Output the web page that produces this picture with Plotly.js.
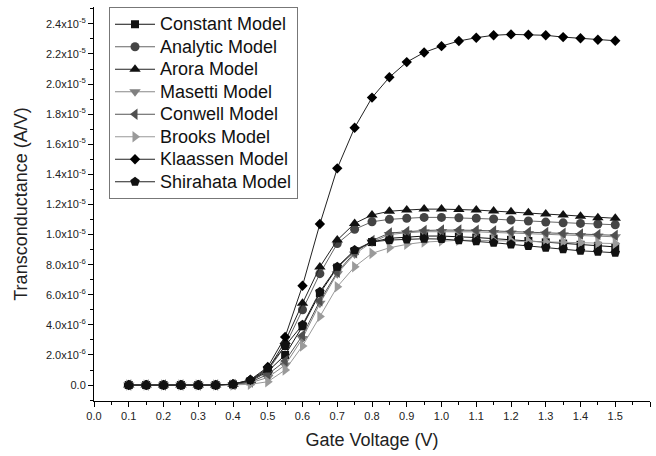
<!DOCTYPE html>
<html>
<head>
<meta charset="utf-8">
<script src="https://cdn.plot.ly/plotly-3.0.1.min.js"></script>
<style>html,body{margin:0;padding:0;background:#fff;overflow:hidden;}#chart{width:656px;height:456px;}</style>
</head>
<body>
<div id="chart"></div>
<script>
// Gate voltage (V)
const gateVoltage = [0.1,0.15,0.2,0.25,0.3,0.35,0.4,0.45,0.5,0.55,0.6,0.65,0.7,0.75,0.8,0.85,0.9,0.95,1.0,1.05,1.1,1.15,1.2,1.25,1.3,1.35,1.4,1.45,1.5];
// Transconductance in units of 1e-6 A/V
const constantModel = [0,0,0,0,0,0,0.04,0.25,0.9,2.0,3.9,6.1,7.8,8.9,9.5,9.75,9.85,9.9,9.9,9.86,9.8,9.73,9.65,9.57,9.48,9.4,9.32,9.25,9.18];
const analyticModel = [0,0,0,0,0,0,0.05,0.28,0.95,2.6,5.0,7.4,9.4,10.35,10.85,11.01,11.08,11.14,11.14,11.12,11.08,11.03,10.96,10.9,10.83,10.78,10.74,10.7,10.65];
const aroraModel = [0,0,0,0,0,0,0.05,0.3,1.0,2.9,5.43,7.85,9.63,10.74,11.3,11.55,11.63,11.69,11.69,11.67,11.63,11.56,11.51,11.45,11.36,11.3,11.21,11.12,11.08];
const masettiModel = [0,0,0,0,0,0,0.02,0.15,0.5,1.33,3.1,5.43,7.4,8.7,9.5,10.0,10.12,10.19,10.2,10.2,10.18,10.14,10.1,10.07,10.03,9.98,9.94,9.9,9.85];
const conwellModel = [0,0,0,0,0,0,0.03,0.2,0.7,1.6,3.3,5.6,7.5,8.8,9.6,10.1,10.2,10.27,10.3,10.3,10.28,10.24,10.2,10.17,10.13,10.08,10.04,10.0,9.95];
const brooksModel = [0,0,0,0,0,0,0.01,0.05,0.22,1.0,2.6,4.55,6.53,7.86,8.75,9.12,9.35,9.5,9.58,9.62,9.62,9.6,9.58,9.55,9.52,9.49,9.46,9.43,9.4];
const klaassenModel = [0,0,0,0,0,0,0.06,0.35,1.2,3.2,6.6,10.7,14.4,17.1,19.1,20.45,21.46,22.1,22.52,22.86,23.08,23.24,23.3,23.28,23.24,23.12,23.04,22.94,22.88];
const shirahataModel = [0,0,0,0,0,0,0.06,0.33,1.1,2.6,4.0,6.2,7.86,8.97,9.52,9.63,9.68,9.72,9.7,9.63,9.55,9.46,9.35,9.24,9.12,9.02,8.92,8.86,8.79];

const seriesNames = ["Constant Model","Analytic Model","Arora Model","Masetti Model","Conwell Model","Brooks Model","Klaassen Model","Shirahata Model"];
const seriesData = [constantModel, analyticModel, aroraModel, masettiModel, conwellModel, brooksModel, klaassenModel, shirahataModel];

const yTickVals = [0,2,4,6,8,10,12,14,16,18,20,22,24];
const yTickText = ["0.0","2.0x10<sup>-6</sup>","4.0x10<sup>-6</sup>","6.0x10<sup>-6</sup>","8.0x10<sup>-6</sup>","1.0x10<sup>-5</sup>","1.2x10<sup>-5</sup>","1.4x10<sup>-5</sup>","1.6x10<sup>-5</sup>","1.8x10<sup>-5</sup>","2.0x10<sup>-5</sup>","2.2x10<sup>-5</sup>","2.4x10<sup>-5</sup>"];
const xTickVals = [0,0.1,0.2,0.3,0.4,0.5,0.6,0.7,0.8,0.9,1.0,1.1,1.2,1.3,1.4,1.5,1.6];
const xTickText = ["0.0","0.1","0.2","0.3","0.4","0.5","0.6","0.7","0.8","0.9","1.0","1.1","1.2","1.3","1.4","1.5","1.6"];

const styles = [
  {symbol:"square", size:8, mcolor:"#111", lcolor:"#111"},
  {symbol:"circle", size:9, mcolor:"#444", lcolor:"#666"},
  {symbol:"triangle-up", size:10, mcolor:"#111", lcolor:"#222"},
  {symbol:"triangle-down", size:10, mcolor:"#808080", lcolor:"#888"},
  {symbol:"triangle-left", size:10, mcolor:"#505050", lcolor:"#555"},
  {symbol:"triangle-right", size:10, mcolor:"#9a9a9a", lcolor:"#999"},
  {symbol:"diamond", size:8, mcolor:"#000", lcolor:"#222"},
  {symbol:"pentagon", size:10, mcolor:"#111", lcolor:"#222"}
];

const traces = seriesNames.map((name, i) => ({
  type: "scatter",
  mode: "lines+markers",
  name: '<span style="font-size:18px">' + name + '</span>',
  x: gateVoltage,
  y: seriesData[i],
  line: {color: styles[i].lcolor, width: 1},
  marker: {symbol: styles[i].symbol, size: styles[i].size, color: styles[i].mcolor, line: {width: 0}}
}));

const font = "'Liberation Sans', Arial, sans-serif";
const layout = {
  width: 656, height: 456,
  margin: {l: 94, r: 6, t: 7, b: 55, pad: 0},
  paper_bgcolor: "#fff", plot_bgcolor: "#fff",
  font: {family: font, color: "#222", size: 11},
  showlegend: true,
  legend: {
    x: 0.027, y: 1, xanchor: "left", yanchor: "top",
    bgcolor: "#fff", bordercolor: "#777", borderwidth: 1,
    font: {family: font, size: 15, color: "#111"},
    itemwidth: 40, tracegroupgap: 0
  },
  xaxis: {
    range: [0, 1.6],
    tickmode: "array", tickvals: xTickVals, ticktext: xTickText,
    ticks: "outside", ticklen: 5, tickwidth: 1, tickcolor: "#000",
    minor: {dtick: 0.05, tick0: 0, ticks: "outside", ticklen: 3, tickcolor: "#000", tickwidth: 1, showgrid: false},
    showline: true, linecolor: "#000", linewidth: 1, mirror: false,
    showgrid: false, zeroline: false,
    tickfont: {family: font, size: 11, color: "#222"},
    title: {text: "Gate Voltage (V)", font: {family: font, size: 18, color: "#222"}, standoff: 12}
  },
  yaxis: {
    range: [-1.06, 25.12],
    tickmode: "array", tickvals: yTickVals, ticktext: yTickText,
    ticks: "outside", ticklen: 5, tickwidth: 1, tickcolor: "#000",
    minor: {dtick: 1, tick0: 0, ticks: "outside", ticklen: 3, tickcolor: "#000", tickwidth: 1, showgrid: false},
    showline: true, linecolor: "#000", linewidth: 1, mirror: false,
    showgrid: false, zeroline: false,
    tickfont: {family: font, size: 11, color: "#222"},
    title: {text: "Transconductance (A/V)", font: {family: font, size: 18, color: "#222"}, standoff: 13}
  }
};

Plotly.newPlot("chart", traces, layout, {staticPlot: true, displayModeBar: false});
</script>
</body>
</html>
